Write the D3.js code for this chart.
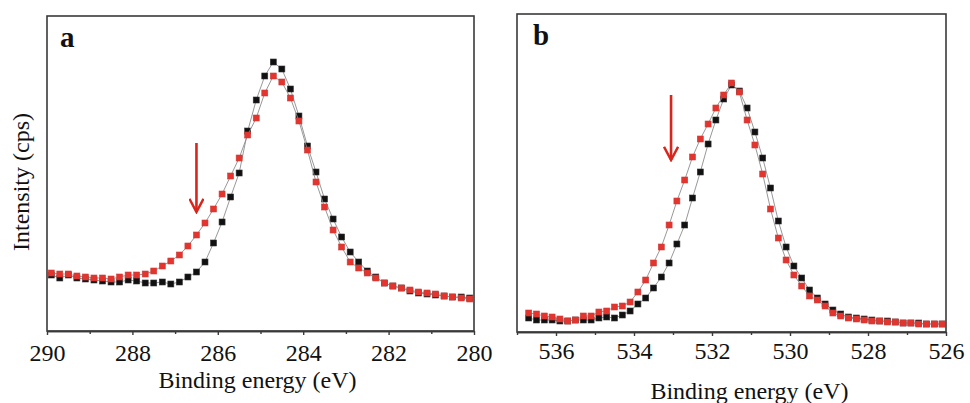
<!DOCTYPE html>
<html lang="en">
<head>
    <meta charset="UTF-8">
    <title>XPS C1s / O1s</title>
    <script src="https://cdn.jsdelivr.net/npm/d3@7/dist/d3.min.js"></script>
    <style>
        body {
            margin: 0;
            padding: 0;
            background: #fff;
        }
        svg, svg text {
            font-family: "Times New Roman", Times, "Liberation Serif", "DejaVu Serif", serif;
        }
        text {
            fill: #111;
        }
        .frame {
            fill: none;
            stroke: #3a3a3a;
            stroke-width: 1.6;
        }
        .axis path, .axis line {
            stroke: #3a3a3a;
            stroke-width: 1.4;
        }
        .axis text {
            font-size: 24px;
        }
        .trace {
            fill: none;
            stroke: #8c8c8c;
            stroke-width: 0.9;
        }
    </style>
</head>
<body>
<svg width="970" height="403"></svg>
<script>
    // panel a : C 1s
    var energyA = [289.9, 289.7, 289.5, 289.3, 289.1, 288.9, 288.7, 288.5, 288.3, 288.1,
        287.9, 287.7, 287.5, 287.3, 287.1, 286.9, 286.7, 286.5, 286.3, 286.1,
        285.9, 285.7, 285.5, 285.3, 285.1, 284.9, 284.7, 284.5, 284.3, 284.1,
        283.9, 283.7, 283.5, 283.3, 283.1, 282.9, 282.7, 282.5, 282.3, 282.1,
        281.9, 281.7, 281.5, 281.3, 281.1, 280.9, 280.7, 280.5, 280.3, 280.1];
    var blackA = [56, 53, 56, 53, 52, 51, 50, 49, 49, 51,
        50, 48, 48, 49, 47, 49, 54, 59, 69, 88,
        109, 134, 158, 200, 231, 255, 269, 262, 242, 215,
        185, 159, 132, 112, 94, 79, 69, 60, 54, 48,
        45, 43, 40, 38, 37, 36, 35, 34, 34, 33];
    var redA = [58, 57, 57, 55, 54, 53, 53, 52, 54, 56,
        56, 57, 60, 65, 70, 76, 85, 96, 108, 122,
        137, 155, 173, 196, 213, 238, 255, 249, 233, 210,
        181, 149, 124, 101, 84, 69, 63, 58, 53, 48,
        45, 43, 41, 39, 38, 37, 35, 34, 33, 32];
    var ticksA = [290, 288, 286, 284, 282, 280];
    var minorA = [289, 287, 285, 283, 281];
    var arrowA = {e: 286.5, from: 188, to: 119};

    // panel b : O 1s
    var energyB = [536.7, 536.5, 536.3, 536.1, 535.9, 535.7, 535.5, 535.3, 535.1, 534.9,
        534.7, 534.5, 534.3, 534.1, 533.9, 533.7, 533.5, 533.3, 533.1, 532.9,
        532.7, 532.5, 532.3, 532.1, 531.9, 531.7, 531.5, 531.3, 531.1, 530.9,
        530.7, 530.5, 530.3, 530.1, 529.9, 529.7, 529.5, 529.3, 529.1, 528.9,
        528.7, 528.5, 528.3, 528.1, 527.9, 527.7, 527.5, 527.3, 527.1, 526.9,
        526.7, 526.5, 526.3, 526.1];
    var blackB = [14, 12, 12, 12, 11, 11, 12, 12, 12, 14,
        15, 14, 17, 21, 28, 34, 44, 55, 69, 88,
        107, 134, 160, 188, 212, 233, 247, 241, 224, 200,
        174, 144, 111, 85, 66, 54, 42, 34, 28, 22,
        18, 15, 14, 13, 12, 11, 11, 10, 9, 9,
        9, 8, 8, 8];
    var redB = [19, 18, 16, 15, 13, 11, 12, 16, 16, 20,
        21, 25, 26, 30, 40, 52, 69, 85, 107, 131,
        152, 175, 193, 208, 224, 237, 249, 240, 212, 187,
        158, 123, 94, 72, 57, 46, 36, 32, 26, 19,
        16, 14, 13, 12, 11, 11, 10, 10, 9, 9,
        8, 8, 8, 8];
    var ticksB = [536, 534, 532, 530, 528, 526];
    var minorB = [537, 535, 533, 531, 529, 527];
    var arrowB = {e: 533.05, from: 237, to: 172};

    var svg = d3.select('svg');

    svg.append('defs').append('marker')
            .attr('id', 'head')
            .attr('viewBox', '0 0 10 10')
            .attr('refX', 9)
            .attr('refY', 5)
            .attr('markerWidth', 6)
            .attr('markerHeight', 6)
            .attr('markerUnits', 'strokeWidth')
            .attr('orient', 'auto')
            .append('path')
            .attr('d', 'M0.5,0.5 L9,5 L0.5,9.5')
            .attr('fill', 'none')
            .attr('stroke', '#d8261d')
            .attr('stroke-width', 1.6);

    function panel(opt) {
        var x = d3.scaleLinear().domain(opt.xDomain).range([opt.left, opt.right]);
        var y = d3.scaleLinear().domain(opt.yDomain).range([opt.bottom, opt.top]);
        var g = svg.append('g');

        // minor ticks
        g.append('g')
                .attr('class', 'axis')
                .attr('transform', 'translate(0,' + opt.bottom + ')')
                .call(d3.axisBottom(x).tickValues(opt.minor).tickSize(3).tickSizeOuter(0).tickFormat(''));
        var ax = g.append('g')
                .attr('class', 'axis')
                .attr('transform', 'translate(0,' + opt.bottom + ')')
                .call(d3.axisBottom(x).tickValues(opt.ticks).tickSize(4).tickSizeOuter(0).tickPadding(opt.pad).tickFormat(d3.format('d')));
        ax.attr('font-family', null);
        ax.selectAll('text').attr('fill', '#111');

        g.append('rect')
                .attr('class', 'frame')
                .attr('x', opt.left)
                .attr('y', opt.top)
                .attr('width', opt.right - opt.left)
                .attr('height', opt.bottom - opt.top);

        var line = d3.line()
                .x(function (d) { return x(d[0]); })
                .y(function (d) { return y(d[1]); });

        opt.series.forEach(function (s) {
            var pts = opt.energy.map(function (e, i) { return [e, s.values[i]]; });
            g.append('path').attr('class', 'trace').attr('d', line(pts));
            g.selectAll(null)
                    .data(pts)
                    .enter().append('rect')
                    .attr('x', function (d) { return x(d[0]) - 3; })
                    .attr('y', function (d) { return y(d[1]) - 3; })
                    .attr('width', 6)
                    .attr('height', 6)
                    .attr('fill', s.color)
                    .attr('stroke', s.edge)
                    .attr('stroke-width', 0.6);
        });

        g.append('line')
                .attr('x1', x(opt.arrow.e))
                .attr('x2', x(opt.arrow.e))
                .attr('y1', y(opt.arrow.from))
                .attr('y2', y(opt.arrow.to))
                .attr('stroke', '#d8261d')
                .attr('stroke-width', 2.6)
                .attr('marker-end', 'url(#head)');

        g.append('text')
                .attr('x', opt.left + opt.labelDx)
                .attr('y', opt.top + 31)
                .style('font-size', '29px')
                .style('font-weight', 'bold')
                .text(opt.label);

        g.append('text')
                .attr('x', (opt.left + opt.right) / 2 + opt.titleDx)
                .attr('y', opt.titleY)
                .attr('text-anchor', 'middle')
                .style('font-size', '24px')
                .text('Binding energy (eV)');
    }

    panel({
        left: 47, right: 474, top: 16, bottom: 331,
        xDomain: [290, 280], yDomain: [0, 315],
        energy: energyA, ticks: ticksA, minor: minorA, pad: 9,
        series: [{values: blackA, color: '#111', edge: '#333'}, {values: redA, color: '#e5332d', edge: '#c9423c'}],
        arrow: arrowA, label: 'a', labelDx: 13, titleDx: -3, titleY: 388
    });
    panel({
        left: 517, right: 946, top: 14, bottom: 332,
        xDomain: [537, 526], yDomain: [0, 318],
        energy: energyB, ticks: ticksB, minor: minorB, pad: 6,
        series: [{values: blackB, color: '#111', edge: '#333'}, {values: redB, color: '#e5332d', edge: '#c9423c'}],
        arrow: arrowB, label: 'b', labelDx: 16, titleDx: 18, titleY: 399
    });

    svg.append('text')
            .attr('transform', 'translate(29,182) rotate(-90)')
            .attr('text-anchor', 'middle')
            .style('font-size', '24px')
            .text('Intensity (cps)');
</script>
</body>
</html>
